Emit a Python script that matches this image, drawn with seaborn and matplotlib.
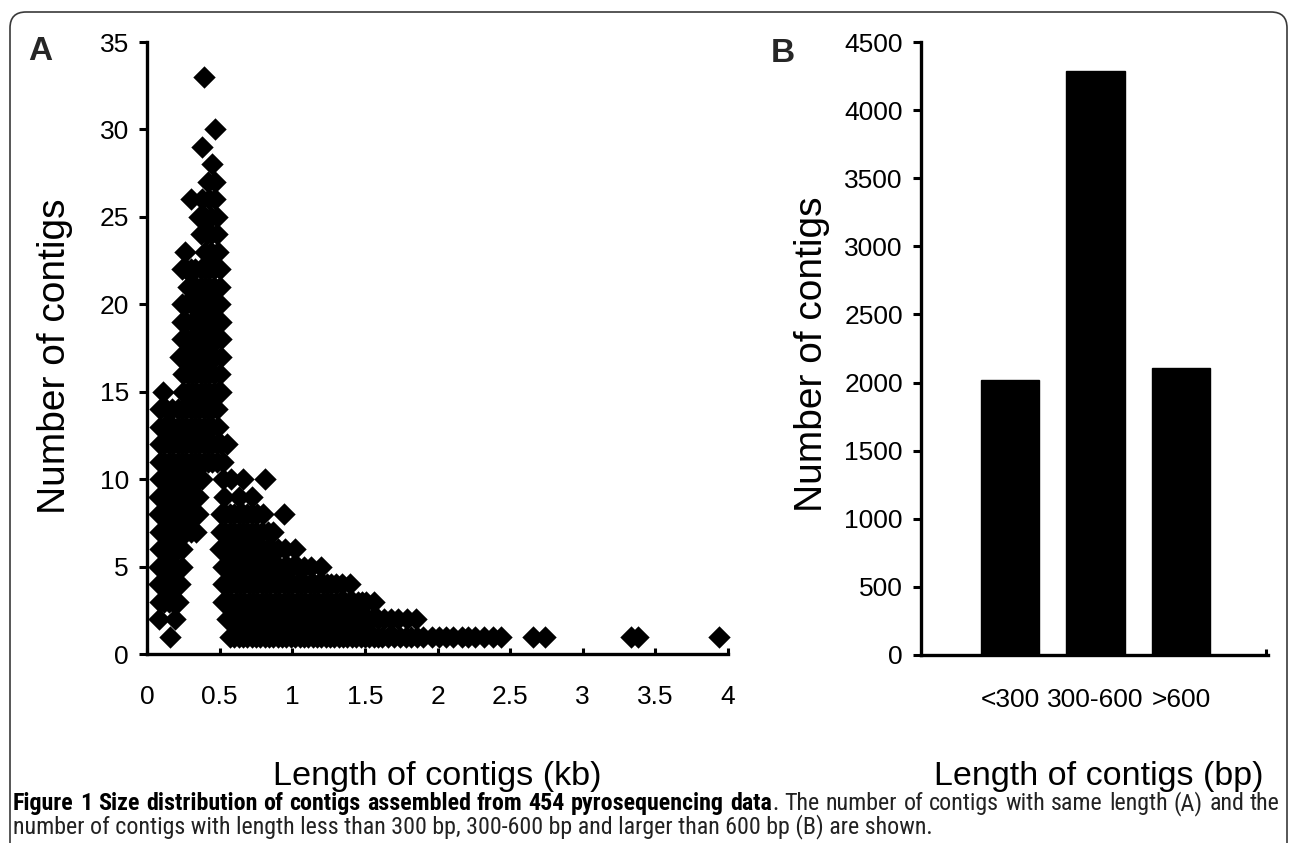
import numpy as np
import pandas as pd
import matplotlib
matplotlib.use("Agg")
import matplotlib.pyplot as plt
import seaborn as sns
from matplotlib.patches import FancyBboxPatch
from matplotlib import font_manager
from matplotlib.font_manager import FontProperties

# ---------------- data: panel A (length in kb of contigs sharing a given count) ----------------
len_c1 = [0.16, 0.57, 0.60, 0.63, 0.66, 0.69, 0.72, 0.75, 0.78, 0.81, 0.84, 0.87, 0.90, 0.93,
          0.96, 0.99, 1.02, 1.05, 1.08, 1.11, 1.14, 1.17, 1.20, 1.23, 1.26, 1.29, 1.32, 1.35,
          1.38, 1.41, 1.44, 1.47, 1.50, 1.53, 1.56, 1.59, 1.62, 1.66, 1.70, 1.74, 1.78, 1.82,
          1.86, 1.90, 1.96, 2.01, 2.06, 2.11, 2.17, 2.21, 2.26, 2.32, 2.38, 2.44, 2.66, 2.74,
          3.33, 3.38, 3.94]
len_c2 = [0.08, 0.19, 0.55, 0.58, 0.61, 0.64, 0.67, 0.70, 0.73, 0.76, 0.79, 0.82, 0.85, 0.88,
          0.91, 0.94, 0.97, 1.00, 1.03, 1.06, 1.09, 1.12, 1.15, 1.18, 1.21, 1.24, 1.27, 1.30,
          1.33, 1.36, 1.39, 1.42, 1.45, 1.48, 1.52, 1.55, 1.59, 1.63, 1.68, 1.73, 1.79, 1.85]
len_c3 = [0.09, 0.12, 0.15, 0.18, 0.21, 0.52, 0.55, 0.58, 0.61, 0.64, 0.67, 0.70, 0.73, 0.76,
          0.79, 0.82, 0.85, 0.88, 0.91, 0.94, 0.97, 1.00, 1.03, 1.06, 1.09, 1.12, 1.15, 1.18,
          1.21, 1.24, 1.27, 1.30, 1.33, 1.36, 1.39, 1.42, 1.45, 1.48, 1.51, 1.56]
len_c4 = [0.08, 0.11, 0.14, 0.17, 0.20, 0.23, 0.52, 0.55, 0.58, 0.61, 0.64, 0.67, 0.70, 0.73,
          0.76, 0.79, 0.82, 0.85, 0.88, 0.91, 0.94, 0.97, 1.00, 1.03, 1.06, 1.09, 1.12, 1.15,
          1.18, 1.21, 1.24, 1.27, 1.30, 1.34, 1.40]
len_c5 = [0.08, 0.11, 0.14, 0.17, 0.20, 0.24, 0.52, 0.55, 0.58, 0.61, 0.64, 0.67, 0.70, 0.73,
          0.76, 0.79, 0.82, 0.85, 0.88, 0.91, 0.94, 0.97, 1.00, 1.04, 1.08, 1.13, 1.20]
len_c6 = [0.09, 0.12, 0.15, 0.18, 0.21, 0.24, 0.50, 0.53, 0.56, 0.59, 0.62, 0.65, 0.68, 0.71,
          0.74, 0.77, 0.80, 0.83, 0.86, 0.90, 0.95, 1.02]
len_c7 = [0.09, 0.12, 0.15, 0.18, 0.21, 0.24, 0.27, 0.30, 0.34, 0.51, 0.54, 0.57, 0.60, 0.63,
          0.66, 0.69, 0.72, 0.75, 0.79, 0.83, 0.87]
len_c8 = [0.08, 0.11, 0.14, 0.17, 0.20, 0.23, 0.26, 0.29, 0.32, 0.35, 0.51, 0.54, 0.57, 0.60,
          0.63, 0.66, 0.69, 0.72, 0.76, 0.80, 0.94]
len_c9 = [0.08, 0.11, 0.14, 0.17, 0.20, 0.23, 0.26, 0.29, 0.32, 0.35, 0.53, 0.63, 0.72]
len_c10 = [0.09, 0.12, 0.15, 0.18, 0.21, 0.24, 0.27, 0.30, 0.33, 0.36, 0.38, 0.52, 0.58, 0.66, 0.81]
len_c11 = [0.09, 0.12, 0.15, 0.18, 0.21, 0.24, 0.27, 0.30, 0.33, 0.36, 0.39, 0.42, 0.45, 0.48, 0.52]
len_c12 = [0.09, 0.12, 0.15, 0.18, 0.21, 0.24, 0.27, 0.30, 0.33, 0.36, 0.39, 0.42, 0.45, 0.48,
           0.51, 0.55]
len_c13 = [0.09, 0.12, 0.15, 0.18, 0.21, 0.24, 0.27, 0.30, 0.33, 0.36, 0.39, 0.42, 0.45, 0.49]
len_c14 = [0.09, 0.13, 0.17, 0.21, 0.24, 0.27, 0.30, 0.33, 0.36, 0.39, 0.42, 0.45, 0.48]
len_c15 = [0.11, 0.25, 0.28, 0.31, 0.34, 0.37, 0.40, 0.43, 0.46, 0.49, 0.51]
len_c16 = [0.25, 0.28, 0.31, 0.34, 0.37, 0.40, 0.43, 0.46, 0.50]
len_c17 = [0.23, 0.26, 0.29, 0.32, 0.35, 0.38, 0.41, 0.44, 0.47, 0.51]
len_c18 = [0.24, 0.27, 0.30, 0.33, 0.36, 0.39, 0.42, 0.45, 0.48, 0.51]
len_c19 = [0.24, 0.27, 0.31, 0.34, 0.37, 0.40, 0.43, 0.46, 0.49, 0.51]
len_c20 = [0.24, 0.27, 0.30, 0.33, 0.36, 0.39, 0.42, 0.45, 0.48, 0.50]
len_c21 = [0.28, 0.31, 0.34, 0.37, 0.40, 0.43, 0.46, 0.50]
len_c22 = [0.24, 0.27, 0.30, 0.33, 0.37, 0.40, 0.43, 0.46, 0.50]
len_c23 = [0.26, 0.40, 0.44, 0.49]
len_c24 = [0.37, 0.41, 0.44, 0.48]
len_c25 = [0.36, 0.40, 0.44, 0.48]
len_c26 = [0.30, 0.38, 0.43, 0.47]
len_c27 = [0.42, 0.47]
len_c28 = [0.45]
len_c29 = [0.38]
len_c30 = [0.47]
len_c33 = [0.39]

count_levels = [1, 2, 3, 4, 5, 6, 7, 8, 9, 10, 11, 12, 13, 14, 15, 16, 17, 18, 19, 20,
                21, 22, 23, 24, 25, 26, 27, 28, 29, 30, 33]
lengths_by_level = [len_c1, len_c2, len_c3, len_c4, len_c5, len_c6, len_c7, len_c8, len_c9,
                    len_c10, len_c11, len_c12, len_c13, len_c14, len_c15, len_c16, len_c17,
                    len_c18, len_c19, len_c20, len_c21, len_c22, len_c23, len_c24, len_c25,
                    len_c26, len_c27, len_c28, len_c29, len_c30, len_c33]

a_xticks = [0, 0.5, 1, 1.5, 2, 2.5, 3, 3.5, 4]
a_xticklabels = ["0", "0.5", "1", "1.5", "2", "2.5", "3", "3.5", "4"]
a_yticks = [0, 5, 10, 15, 20, 25, 30, 35]

# ---------------- data: panel B ----------------
b_categories = ["<300", "300-600", ">600"]
b_counts = [2020, 4290, 2110]
b_yticks = [0, 500, 1000, 1500, 2000, 2500, 3000, 3500, 4000, 4500]

rows = []
for c, lens in zip(count_levels, lengths_by_level):
    for L in lens:
        rows.append((L, c))
dfA = pd.DataFrame(rows, columns=["length_kb", "n_contigs"])
dfB = pd.DataFrame({"category": b_categories, "count": b_counts})

# ---------------- fonts ----------------
sns.set_theme(style="white")
plt.rcParams["font.family"] = ["Liberation Sans", "DejaVu Sans"]


def find_condensed(bold=False):
    best = None
    for f in font_manager.fontManager.ttflist:
        nm = f.name.lower()
        fn = f.fname.lower()
        is_cond = ("narrow" in nm or "condensed" in nm or "narrow" in fn or
                   "condensed" in fn or str(f.stretch) in ("condensed", "semi-condensed",
                                                           "extra-condensed"))
        if not is_cond or "mono" in nm or ("serif" in nm and "sans" not in nm):
            continue
        w = f.weight if isinstance(f.weight, int) else (700 if "bold" in str(f.weight) else 400)
        if bold != (w >= 600):
            continue
        if f.style != "normal":
            continue
        rank = 0
        for i, key in enumerate(["liberation sans narrow", "roboto condensed",
                                 "open sans condensed", "noto sans", "dejavu sans"]):
            if key in nm:
                rank = 10 - i
        if bold and w > 750:
            rank -= 1
        if best is None or rank > best[0]:
            best = (rank, f.fname)
    return best[1] if best else None


cond_reg = find_condensed(False)
cond_bold = find_condensed(True)


def fp(bold=False):
    path = cond_bold if bold else cond_reg
    if path:
        return FontProperties(fname=path)
    return FontProperties(family=["Liberation Sans", "DejaVu Sans"],
                          weight="bold" if bold else "normal")


W, H = 1290, 843
fig = plt.figure(figsize=(W / 100, H / 100), dpi=100)


def fx(px):
    return px / W


def fy(py):
    return 1 - py / H


# frame around the figure panel (bottom edge runs off the image)
frame = FancyBboxPatch((0.10, -0.5), 12.77, 8.81,
                       boxstyle="round,pad=0,rounding_size=0.16",
                       transform=fig.dpi_scale_trans, fill=False,
                       edgecolor="#3a3a3a", linewidth=1.2)
fig.patches.append(frame)

tick_fs = 19

# ---- panel A ----
axA = fig.add_axes([fx(147), fy(654), (728 - 147) / W, (654 - 42) / H])
sns.scatterplot(data=dfA, x="length_kb", y="n_contigs", marker="D", s=130,
                color="black", linewidth=0, ax=axA, clip_on=False, legend=False)
axA.set_xlim(0, 4)
axA.set_ylim(0, 35)
axA.set_xticks(a_xticks)
axA.set_xticklabels(a_xticklabels)
axA.set_yticks(a_yticks)
axA.tick_params(axis="x", direction="in", length=4, width=2.2, pad=22,
                labelsize=tick_fs, colors="black", bottom=True)
axA.tick_params(axis="y", direction="out", length=6, width=2.2, pad=7,
                labelsize=tick_fs, colors="black", left=True)

# ---- panel B ----
b_px_per_cat = 85.5
axB = fig.add_axes([fx(921), fy(655), (1268 - 921) / W, (655 - 42) / H])
sns.barplot(data=dfB, x="category", y="count", order=b_categories, color="black",
            saturation=1, width=0.68, ax=axB, edgecolor="black")
axB.set_ylim(0, 4500)
axB.set_yticks(b_yticks)
axB.set_xlim((921 - 1010) / b_px_per_cat, (1268 - 1010) / b_px_per_cat)
axB.set_xticks([(1038 - 1010) / b_px_per_cat, (1266 - 1010) / b_px_per_cat], minor=True)
axB.tick_params(axis="x", which="minor", direction="in", length=4, width=2.2,
                bottom=True, colors="black")
axB.tick_params(axis="x", which="major", direction="in", length=0, pad=24,
                labelsize=tick_fs, colors="black")
axB.tick_params(axis="y", direction="out", length=6, width=2.2, pad=7,
                labelsize=tick_fs, colors="black", left=True)

for ax in (axA, axB):
    for side in ("top", "right"):
        ax.spines[side].set_visible(False)
    for side in ("left", "bottom"):
        ax.spines[side].set_color("black")
        ax.spines[side].set_linewidth(2.4)
    ax.grid(False)

# axis titles
axA.set_ylabel("Number of contigs", fontsize=28, color="black")
axA.yaxis.set_label_coords((55 - 147) / 581, (654 - 356) / 612)
axA.yaxis.label.set_va("center")
axB.set_ylabel("Number of contigs", fontsize=28, color="black")
axB.yaxis.set_label_coords((812 - 921) / 347, (655 - 354) / 613)
axB.yaxis.label.set_va("center")

axA.set_xlabel("Length of contigs (kb)", color="black", fontsize=25)
axA.xaxis.set_label_coords(0.5, -(777 - 654) / 612)
axA.xaxis.label.set_va("center")
axB.set_xlabel("Length of contigs (bp)", color="black", fontsize=25)
axB.xaxis.set_label_coords((1099 - 921) / 347, -(777 - 655) / 613)
axB.xaxis.label.set_va("center")

# panel letters
fig.text(fx(40), fy(51), "A", fontsize=24, fontweight="bold", ha="center", va="center")
fig.text(fx(783), fy(54), "B", fontsize=24, fontweight="bold", ha="center", va="center")

# caption
cap_bold = "Figure 1 Size distribution of contigs assembled from 454 pyrosequencing data"
cap_rest1 = ". The number of contigs with same length (A) and the"
cap_line2 = ("number of contigs with length less than 300 bp, 300-600 bp and larger than "
             "600 bp (B) are shown.")

fig.canvas.draw()
r = fig.canvas.get_renderer()


def width_px(t):
    return t.get_window_extent(renderer=r).width


# fit axis titles to their widths in the reference
for lab, target in ((axA.xaxis.label, 330), (axB.xaxis.label, 330)):
    lab.set_fontsize(lab.get_fontsize() * target / width_px(lab))

# caption line 2: natural, sized to the reference width
cap_color = "#222222"
y1, y2 = fy(810), fy(833)
t_l2 = fig.text(fx(13), y2, cap_line2, ha="left", va="baseline",
                fontproperties=fp(), color=cap_color)
t_l2.set_fontsize(12)
fig.canvas.draw()
cap_fs = 12 * 920 / width_px(t_l2)
t_l2.set_fontsize(cap_fs)

# caption line 1: justified word by word between x=13 and x=1280
tokens = [(w, True) for w in cap_bold.split(" ")]
rest_words = cap_rest1.split(" ")
tokens.append((rest_words[0], False))          # the full stop glued to "data"
tokens += [(w, False) for w in rest_words[1:]]
objs = []
for w, b in tokens:
    t = fig.text(0, y1, w, ha="left", va="baseline", fontproperties=fp(b),
                 color="black" if b else cap_color)
    t.set_fontsize(cap_fs)
    objs.append(t)
fig.canvas.draw()
widths = [width_px(t) for t in objs]
glue = [False] + [tokens[i][0] == "." for i in range(1, len(tokens))]
n_gaps = sum(1 for g in glue[1:] if not g)
gap = (1280 - 13 - sum(widths)) / n_gaps
x = 13.0
for i, t in enumerate(objs):
    if i > 0:
        x += 0 if glue[i] else gap
    t.set_x(x / W)
    x += widths[i]

fig.savefig("out.png", dpi=100)
